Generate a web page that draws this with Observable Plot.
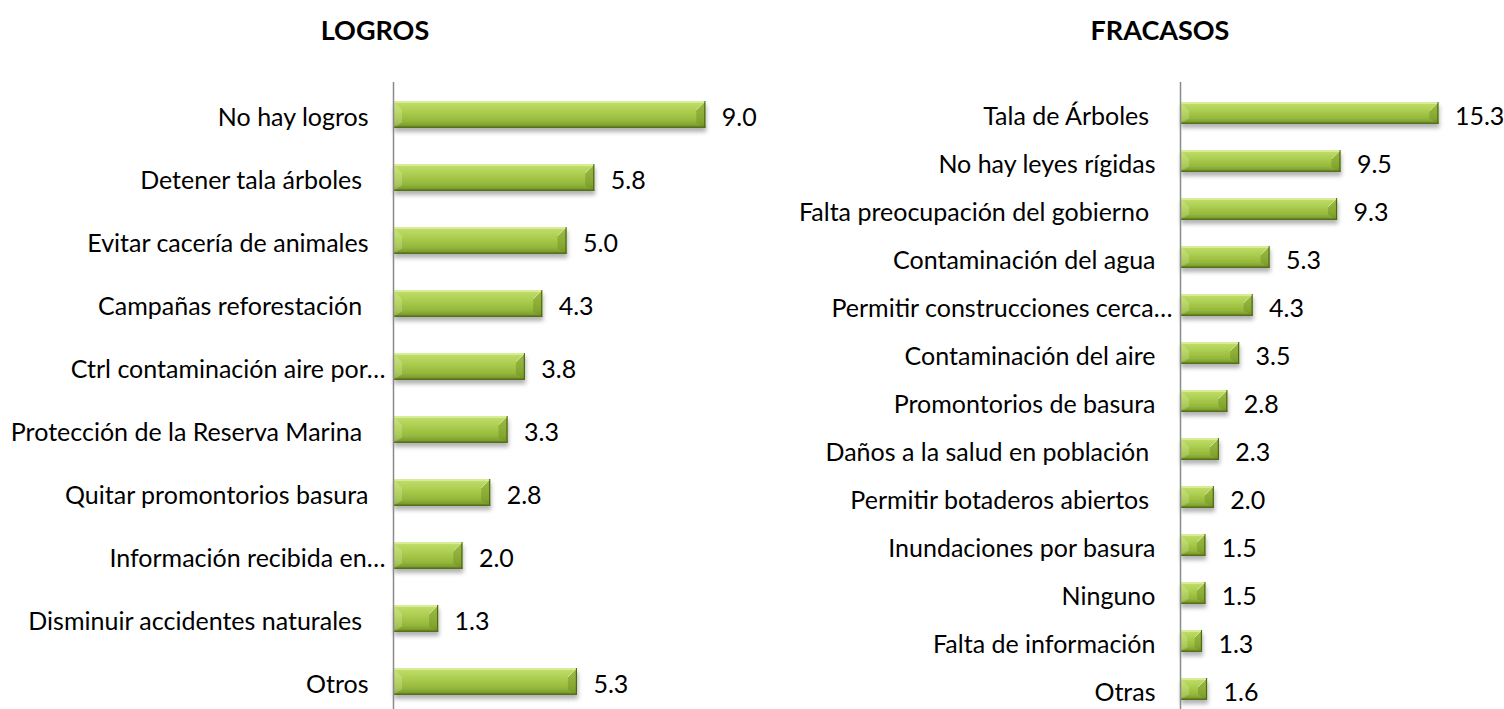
<!DOCTYPE html>
<html>
<head>
<meta charset="utf-8">
<script src="https://cdn.jsdelivr.net/npm/d3@7"></script>
<script src="https://cdn.jsdelivr.net/npm/@observablehq/plot@0.6"></script>
<style>
  html, body { margin: 0; padding: 0; background: #fff; width: 1504px; height: 709px; overflow: hidden; font-family: Lato, "Open Sans", sans-serif; }
  #wrap { position: relative; width: 1504px; height: 709px; }
  .panel { position: absolute; top: 0; height: 709px; }
  .title { position: relative; height: 62px; }
  .title span { position: absolute; top: 13px; transform: translateX(-50%); font-weight: 700; font-size: 27px; color: #000; white-space: nowrap; }
  svg text { white-space: pre; }
</style>
</head>
<body>
<div id="wrap">
  <div class="panel" id="left" style="left:0;width:760px;"><div class="title"><span id="tl" style="left:375px;"></span></div></div>
  <div class="panel" id="right" style="left:760px;width:744px;"><div class="title"><span id="tr" style="left:400px;"></span></div></div>
</div>
<script>
// ---- Data ----
const logrosTitle = "LOGROS";
const logrosCats = [
  "No hay logros",
  "Detener tala árboles ",
  "Evitar cacería de animales",
  "Campañas reforestación ",
  "Ctrl contaminación aire por…",
  "Protección de la Reserva Marina ",
  "Quitar promontorios basura",
  "Información recibida en…",
  "Disminuir accidentes naturales ",
  "Otros"
];
const logrosVals = [9.0, 5.8, 5.0, 4.3, 3.8, 3.3, 2.8, 2.0, 1.3, 5.3];

const fracasosTitle = "FRACASOS";
const fracasosCats = [
  "Tala de Árboles ",
  "No hay leyes rígidas",
  "Falta preocupación del gobierno ",
  "Contaminación del agua",
  "Permitir construcciones cerca…",
  "Contaminación del aire",
  "Promontorios de basura",
  "Daños a la salud en población ",
  "Permitir botaderos abiertos ",
  "Inundaciones por basura",
  "Ninguno",
  "Falta de información",
  "Otras"
];
const fracasosVals = [15.3, 9.5, 9.3, 5.3, 4.3, 3.5, 2.8, 2.3, 2.0, 1.5, 1.5, 1.3, 1.6];

const fmt = d3.format(".1f");

function bevelMark(data) {
  return (index, scales) => {
    const xs = scales.x, ys = scales.y;
    const bw = ys.bandwidth ? ys.bandwidth() : scales.scales.y.bandwidth;
    const g = d3.create("svg:g");
    for (const d of data) {
      const x0 = xs(0), x1 = xs(d.value), yt = ys(d.cat), yb = yt + bw;
      const b = Math.min(9, (x1 - x0) / 3);
      // right end facet (darker)
      g.append("polygon")
        .attr("points", [[x1, yt], [x1 - b, yt + b], [x1 - b, yb - b * 0.6], [x1, yb]].map(p => p.join(",")).join(" "))
        .attr("fill", "#6f8f22").attr("fill-opacity", 0.45);
      g.append("line").attr("x1", x1).attr("y1", yt).attr("x2", x1 - b).attr("y2", yt + b)
        .attr("stroke", "#e4f3b0").attr("stroke-opacity", 0.7).attr("stroke-width", 1);
      g.append("line").attr("x1", x1 - 0.5).attr("y1", yt).attr("x2", x1 - 0.5).attr("y2", yb)
        .attr("stroke", "#4d6a12").attr("stroke-width", 1.2);
      // left end facet (light)
      g.append("polygon")
        .attr("points", [[x0, yt], [x0 + b, yt + b], [x0 + b, yb - b * 0.6], [x0, yb]].map(p => p.join(",")).join(" "))
        .attr("fill", "#eaf6c0").attr("fill-opacity", 0.25);
      // top highlight
      g.append("line").attr("x1", x0).attr("y1", yt + 1).attr("x2", x1 - 1).attr("y2", yt + 1)
        .attr("stroke", "#dcefa0").attr("stroke-width", 1.5);
      // bottom dark edge
      g.append("line").attr("x1", x0).attr("y1", yb - 0.75).attr("x2", x1).attr("y2", yb - 0.75)
        .attr("stroke", "#55711a").attr("stroke-width", 1.5);
    }
    return g.node();
  };
}

function addDefs(svg, id) {
  const defs = d3.select(svg).insert("defs", ":first-child");
  const lg = defs.append("linearGradient").attr("id", id).attr("x1", 0).attr("y1", 0).attr("x2", 0).attr("y2", 1);
  [[0, "#cfe88a"], [0.1, "#bddb66"], [0.45, "#a8ca4b"], [0.75, "#94b73c"], [0.92, "#7b9c2d"], [1, "#62801f"]]
    .forEach(([o, c]) => lg.append("stop").attr("offset", o).attr("stop-color", c));
  const f = defs.append("filter").attr("id", id + "Sh").attr("x", "-10%").attr("y", "-30%").attr("width", "130%").attr("height", "190%");
  f.append("feDropShadow").attr("dx", 1).attr("dy", 4).attr("stdDeviation", 2).attr("flood-color", "#000").attr("flood-opacity", 0.3);
  d3.select(svg).selectAll(`g[fill="url(#${id})"]`).attr("filter", `url(#${id}Sh)`);
}

function chart({cats, vals, width, marginLeft, xMax, pi, po, align, gid}) {
  const data = cats.map((c, i) => ({cat: c, value: vals[i]}));
  const trunc = data.filter(d => d.cat.endsWith("…"));
  const normal = data.filter(d => !d.cat.endsWith("…"));
  const svg = Plot.plot({
    width, height: 647,
    marginLeft, marginRight: 20, marginTop: 20, marginBottom: 0,
    x: {domain: [0, xMax], axis: null},
    y: {domain: cats, axis: null, paddingInner: pi, paddingOuter: po, align},
    style: {fontFamily: "Lato, 'Open Sans', sans-serif", fontSize: "25px", color: "#000", background: "transparent", overflow: "visible"},
    marks: [
      Plot.barX(data, {x: "value", y: "cat", fill: `url(#${gid})`}),
      bevelMark(data),
      Plot.ruleX([0], {stroke: "#8a8a8a", strokeWidth: 1.5}),
      Plot.text(normal, {x: 0, y: "cat", text: "cat", textAnchor: "end", dx: -25, dy: 3, fill: "#000", fontSize: 25}),
      Plot.text(trunc, {x: 0, y: "cat", text: "cat", textAnchor: "end", dx: -8, dy: 3, fill: "#000", fontSize: 25}),
      Plot.text(data, {x: "value", y: "cat", text: d => fmt(d.value), textAnchor: "start", dx: 16, dy: 3, fill: "#000", fontSize: 25})
    ]
  });
  addDefs(svg, gid);
  return svg;
}

document.getElementById("tl").textContent = logrosTitle;
document.getElementById("tr").textContent = fracasosTitle;

document.getElementById("left").appendChild(chart({
  cats: logrosCats, vals: logrosVals, width: 760, marginLeft: 393, xMax: 10,
  pi: 0.575, po: 0.224, align: 0.58, gid: "gL"
}));
document.getElementById("right").appendChild(chart({
  cats: fracasosCats, vals: fracasosVals, width: 744, marginLeft: 420, xMax: 18,
  pi: 0.55, po: 0.195, align: 0.68, gid: "gR"
}));
</script>
</body>
</html>
